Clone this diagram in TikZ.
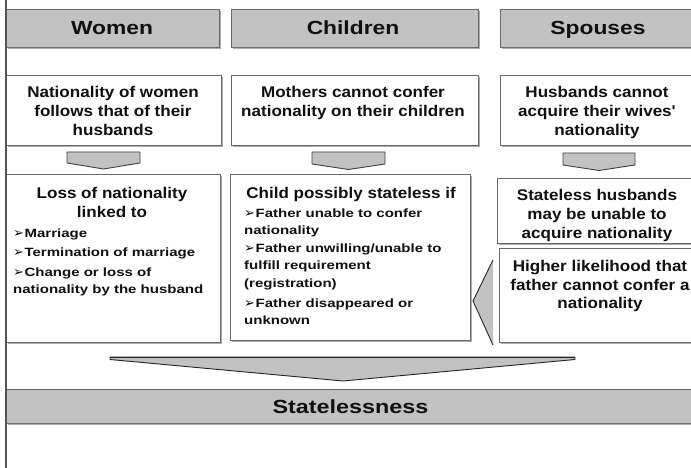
\documentclass[tikz,border=0pt]{standalone}
\usepackage{fontspec}
\setmainfont{Liberation Sans}
\newfontfamily\tfont[FakeStretch=1.1]{Liberation Sans}
\newfontfamily\hfont[FakeStretch=1.2]{Liberation Sans}
\newfontfamily\sfont[FakeStretch=1.23]{Liberation Sans}
\newfontfamily\bfont[FakeStretch=1.25]{Liberation Sans}
\newfontfamily\symfont{DejaVu Sans}
\usetikzlibrary{fit,shadows}
\definecolor{grayc}{HTML}{C2C2C2}
\definecolor{bordc}{HTML}{6A6A6A}
\definecolor{txtc}{HTML}{101010}
\newcommand\barr{{\symfont\mdseries\fontsize{13}{13}\selectfont ➢}\hspace{0.5pt}}
\tikzset{
  shad/.style={drop shadow={shadow xshift=1.6pt,shadow yshift=-1.8pt,fill=black!55,opacity=0.6}},
  hdrbox/.style={draw=bordc,fill=grayc,line width=0.9pt,inner sep=0pt,shad},
  whbox/.style={draw=bordc,fill=white,line width=0.9pt,inner sep=0pt,shad},
  hdrtxt/.style={text=txtc,inner sep=0pt,anchor=base,font={\hfont\bfseries\fontsize{19}{22}\selectfont}},
  ttltxt/.style={text=txtc,inner sep=0pt,anchor=north,align=center,font={\tfont\bfseries\fontsize{15.5}{19}\selectfont}},
  bultxt/.style={text=txtc,inner sep=0pt,anchor=north west,align=left,font={\bfont\bfseries\fontsize{12}{17.5}\selectfont}},
  blockarr/.style={fill=grayc,draw=black!75,line width=0.9pt,line join=round},
}
\begin{document}
\begin{tikzpicture}[x=1pt,y=-1pt]
\useasboundingbox (0,0) rectangle (691,468);
\fill[white] (0,0) rectangle (691,468);

% header row
\node[hdrbox,fit={(6,9) (219,47)}] (hw) {};
\node[hdrbox,fit={(231,9) (478,47)}] (hc) {};
\node[hdrbox,fit={(500,9) (730,47)}] (hs) {};
\node[hdrtxt] (hwt) at (112,34.8) {Women};
\node[hdrtxt] (hct) at (353,34.8) {Children};
\node[hdrtxt] (hst) at (598,34.8) {Spouses};

% second row
\node[whbox,fit={(6,75) (221,145)}] (w2) {};
\node[whbox,fit={(231,75) (478,145)}] (c2) {};
\node[whbox,fit={(500,75) (730,145)}] (s2) {};
\node[ttltxt] (w2t) at (113,86.4) {Nationality of women\\follows that of their\\husbands};
\node[ttltxt] (c2t) at (353,86.4) {Mothers cannot confer\\nationality on their children};
\node[ttltxt] (s2t) at (597,86.4) {Husbands cannot\\acquire their wives'\\nationality};

% small block arrows
\draw[blockarr] (67,152) -- (140,152) -- (140,163) -- (103.5,169) -- (67,163) -- cycle;
\draw[blockarr] (312,152) -- (385,152) -- (385,164) -- (348.5,169.5) -- (312,164) -- cycle;
\draw[blockarr] (563,153) -- (635,153) -- (635,165) -- (599,170.5) -- (563,165) -- cycle;

% third row
\node[whbox,fit={(6,174) (220,342)}] (w3) {};
\node[whbox,fit={(230,174) (470,340)}] (c3) {};
\node[whbox,fit={(497,178) (730,243)}] (s3) {};
\node[whbox,fit={(499,248) (730,342)}] (s4) {};

\node[ttltxt] (w3t) at (112,187.4) {Loss of nationality\\linked to};
\node[bultxt] (w3b) at (13,228.2) {\barr Marriage\\[2pt]
\barr Termination of marriage\\[2pt]
\barr Change or loss of\\nationality by the husband};

\node[ttltxt] (c3t) at (351,187.4) {Child possibly stateless if};
\node[bultxt] (c3b) at (244,208.2) {\barr Father unable to confer\\nationality\\
\barr Father unwilling/unable to\\fulfill requirement\\(registration)\\[2.5pt]
\barr Father disappeared or\\unknown};

\node[ttltxt] (s3t) at (597,189.4) {Stateless husbands\\may be unable to\\acquire nationality};
\node[ttltxt,font={\tfont\bfseries\fontsize{15.5}{18.5}\selectfont}] (s4t) at (600,260.4) {Higher likelihood that\\father cannot confer a\\nationality};

% left-pointing triangle
\fill[grayc] (493,260) -- (473,301) -- (493,345) -- cycle;
\draw[black!85,line width=0.9pt,line join=round] (493,260) -- (473,301) -- (493,345);

% big down arrow
\draw[blockarr,draw=black!85] (110,357) -- (575,357) -- (575,359.5) -- (343,381) -- (110,359.5) -- cycle;
\draw[black!85,line width=1.6pt] (110,357.3) -- (575,357.3);

% statelessness bar
\node[hdrbox,fit={(6,389) (730,423)}] (sl) {};
\node[hdrtxt,font={\sfont\bfseries\fontsize{19}{22}\selectfont}] (slt) at (350.5,413) {Statelessness};

% left border line
\draw[bordc!80!black,line width=1.3pt] (6,0) -- (6,468);
\end{tikzpicture}
\end{document}
